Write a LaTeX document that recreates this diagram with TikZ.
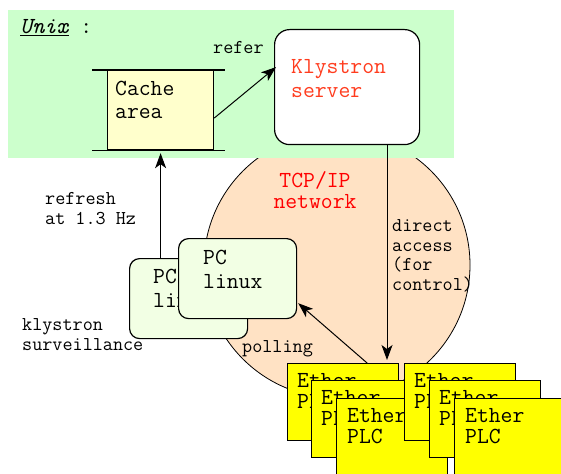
\documentclass[tikz,border=0pt]{standalone}
\usepackage{fontspec}
\usetikzlibrary{arrows.meta,calc}
\definecolor{unixbg}{RGB}{204,255,204}
\definecolor{netbg}{RGB}{255,226,196}
\definecolor{cachebg}{RGB}{255,255,204}
\definecolor{pcbg}{RGB}{242,255,228}
\definecolor{srvred}{RGB}{255,60,30}
\definecolor{netred}{RGB}{255,0,0}
\definecolor{plcyellow}{RGB}{255,255,0}
\begin{document}
\begin{tikzpicture}[x=1pt,y=-1pt,
  % multi-line texts are placed by the baseline of their last line
  maintxt/.style={font=\ttfamily\fontsize{23}{24}\selectfont, inner sep=0, align=left, anchor=base west},
  lbltxt/.style={font=\ttfamily\fontsize{19.6}{19.5}\selectfont, inner sep=0, align=left, anchor=base west},
  plctxt/.style={font=\ttfamily\fontsize{23}{20.5}\selectfont, inner sep=0, align=left, anchor=base west},
  box/.style={draw, line width=1.2pt, inner sep=0, anchor=north west},
  pcbox/.style={box, fill=pcbg, rounded corners=10pt, minimum width=118pt, minimum height=80pt},
  plcbox/.style={box, fill=plcyellow, minimum width=111pt, minimum height=77pt},
  arr/.style={draw, line width=1pt, -{Stealth[length=15pt,width=11pt,inset=4pt]}}]
\useasboundingbox[fill=white] (0,0) rectangle (561,473);

% TCP/IP network cloud and the Unix host area above it
\node[circle, draw, line width=0.8pt, fill=netbg, minimum size=266pt, inner sep=0] (net) at (337,265) {};
\fill[unixbg] (8,10) rectangle (454,158);
\node[maintxt] (unix) at (20,34) {\textit{\underline{Unix}} :};

% cache area between two rails
\node[box, fill=cachebg, minimum width=106pt, minimum height=79pt] (cache) at (107,70) {};
\draw[line width=1.2pt] ($(cache.north west)+(-15,0)$) -- ($(cache.north east)+(11,0)$);
\draw[line width=1.2pt] ($(cache.south west)+(-15,0)$) -- ($(cache.south east)+(11,0)$);
\node[maintxt, font=\ttfamily\fontsize{23}{23}\selectfont] (cachetxt) at (115,119) {Cache\\area};

% Klystron server
\node[box, fill=white, rounded corners=15pt, minimum width=145pt, minimum height=115pt] (server) at (274,29) {};
\node[maintxt, text=srvred] (servertxt) at (291,98) {Klystron\\server};
\node[lbltxt] (refer) at (213,54) {refer};
\draw[arr] ($(cache.east)+(0,8)$) -- ($(server.west)+(2,-20)$);

\node[maintxt, text=netred, align=center, anchor=base, font=\ttfamily\fontsize{23}{21}\selectfont] (nettxt) at (315,208) {TCP/IP\\network};

% direct access from the server to the PLCs
\coordinate (dtip) at (387,360);
\draw[arr] (server.south -| dtip) -- (dtip);
\node[lbltxt] (direct) at (392,290) {direct\\access\\(for\\control)};

% surveillance PCs
\node[pcbox] (pcback) at (129,258) {};
\node[maintxt] (pcbacktxt) at (153,307) {PC\\linux};
\node[pcbox] (pcfront) at (178,238) {};
\node[maintxt] (pcfronttxt) at (203,288) {PC\\linux};
\draw[arr] (cache.south |- pcback.north) -- ($(cache.south)+(0,3)$);
\node[lbltxt] (refresh) at (45,224) {refresh\\at 1.3 Hz};
\node[lbltxt, font=\ttfamily\fontsize{19.6}{20}\selectfont] (surv) at (22,350) {klystron\\surveillance};
\node[lbltxt] (polling) at (242,352) {polling};

% Ethernet PLCs, two stacks of three
\node[plcbox] (g1a) at (287,363) {};
\draw[arr] ($(g1a.north)+(24,0)$) -- ($(pcfront.south east)+(1,-16)$);
\node[plctxt] (g1atxt) at ($(g1a.north west)+(10,45)$) {Ether\\PLC};
\node[plcbox] (g1b) at (311,380) {};
\node[plctxt] (g1btxt) at ($(g1b.north west)+(10,45)$) {Ether\\PLC};
\node[plcbox] (g1c) at (336,398) {};
\node[plctxt] (g1ctxt) at ($(g1c.north west)+(11,45)$) {Ether\\PLC};
\node[plcbox] (g2a) at (404,363) {};
\node[plctxt] (g2atxt) at ($(g2a.north west)+(10,45)$) {Ether\\PLC};
\node[plcbox] (g2b) at (429,380) {};
\node[plctxt] (g2btxt) at ($(g2b.north west)+(10,45)$) {Ether\\PLC};
\node[plcbox] (g2c) at (454,398) {};
\node[plctxt] (g2ctxt) at ($(g2c.north west)+(11,45)$) {Ether\\PLC};
\end{tikzpicture}
\end{document}
